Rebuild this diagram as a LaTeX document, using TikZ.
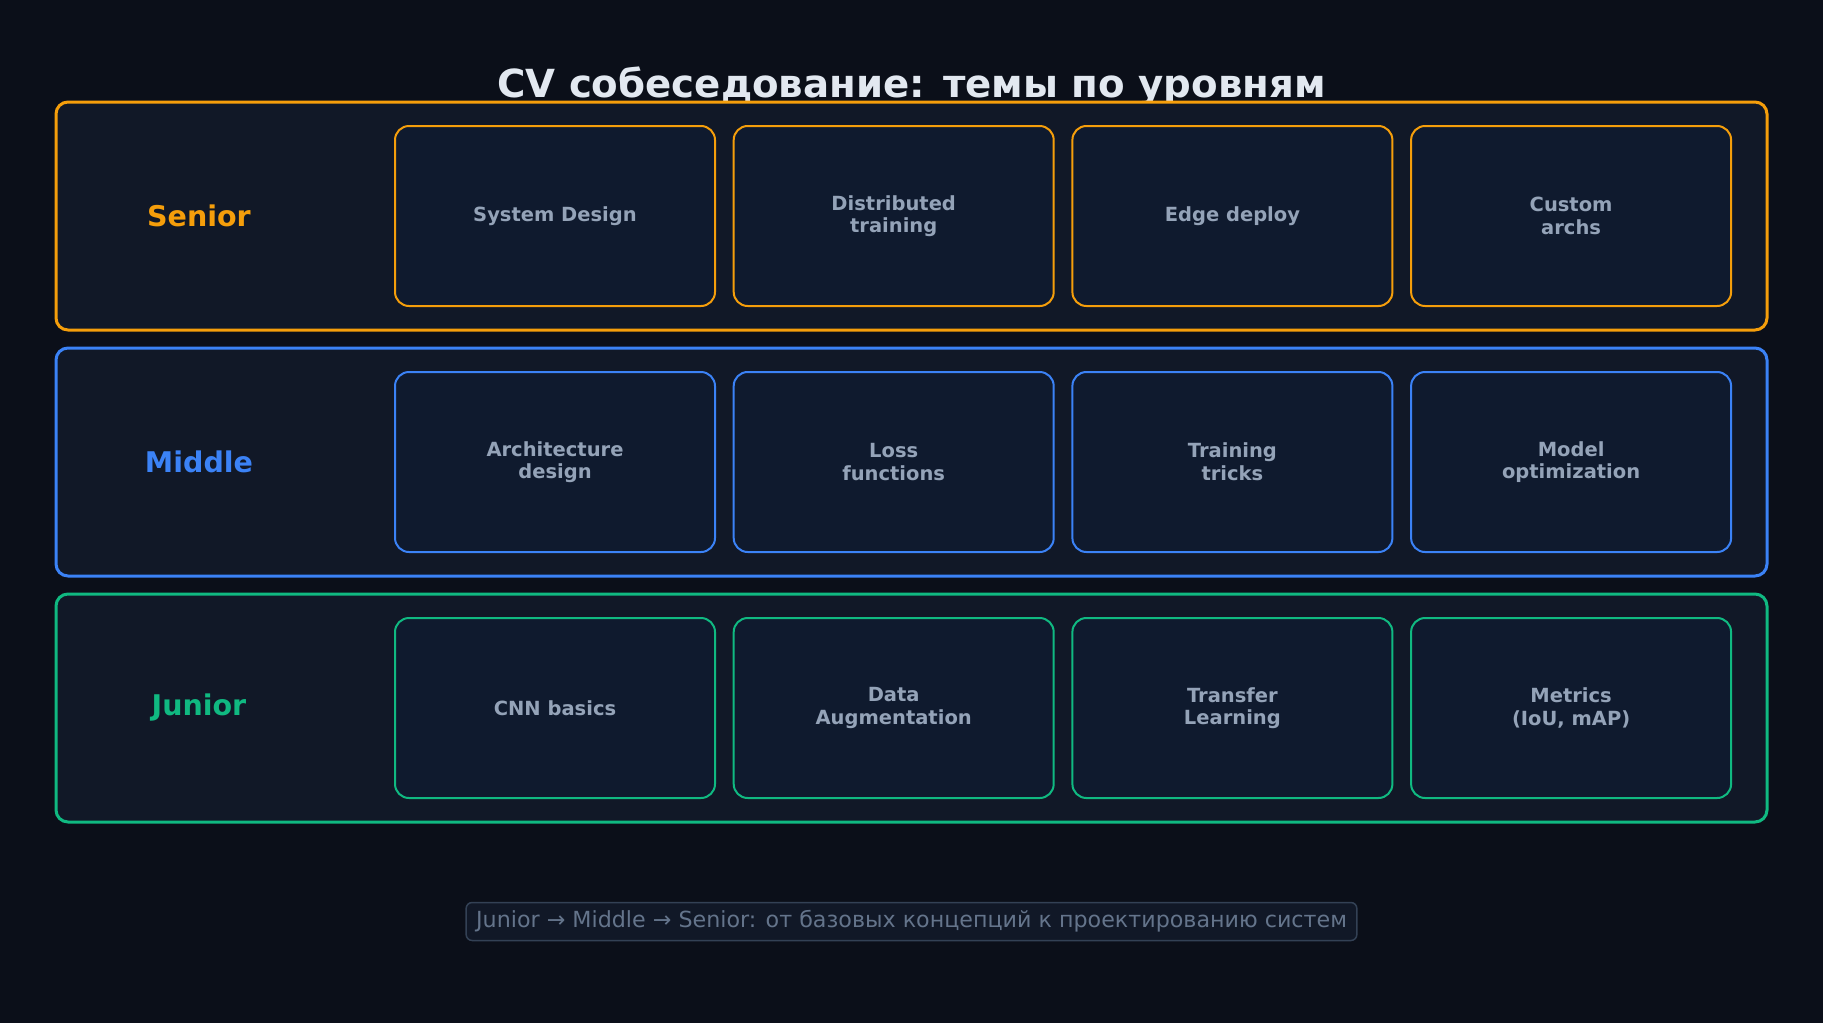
\documentclass[tikz,border=0pt]{standalone}
\usepackage{fontspec}
\setmainfont{DejaVu Sans}
\usepackage{xcolor}
\usepackage{tikz}
\definecolor{bgdark}{RGB}{11,15,25}
\definecolor{rowfill}{RGB}{17,24,39}
\definecolor{cardfill}{RGB}{15,26,46}
\definecolor{titlewhite}{RGB}{226,232,240}
\definecolor{topicgray}{RGB}{148,163,184}
\definecolor{notegray}{RGB}{100,116,139}
\definecolor{noteedge}{RGB}{51,65,85}
\definecolor{seniororange}{RGB}{245,158,11}
\definecolor{middleblue}{RGB}{59,130,246}
\definecolor{juniorgreen}{RGB}{16,185,129}

\tikzset{
  rowbox/.style={draw, fill=rowfill, line width=3pt, rounded corners=12pt,
    minimum width=1711pt, minimum height=228pt},
  card/.style={draw, fill=cardfill, line width=2pt, rounded corners=14pt,
    minimum width=320pt, minimum height=180pt, align=center, text=topicgray,
    font=\fontsize{19.5}{22.6}\selectfont\bfseries},
  level/.style={font=\fontsize{28.5}{33}\selectfont\bfseries}
}

\begin{document}
\begin{tikzpicture}[x=1pt, y=-1pt]
  \useasboundingbox (0,0) rectangle (1823,1023);
  \fill[bgdark] (0,0) rectangle (1823,1023);
  \node[titlewhite, font=\fontsize{38.7}{45}\selectfont\bfseries, anchor=base,
    inner sep=0pt] (title) at (911.5,97.5) {CV собеседование: темы по уровням};
  % Senior
  \node[rowbox, draw=seniororange] (seniorrow) at (911.5,216) {};
  \node[level, text=seniororange] (senior) at (199,216) {Senior};
  \foreach \t [count=\i] in {System Design, Distributed\\training, Edge deploy, Custom\\archs}
    \node[card, draw=seniororange] (senior\i) at ({555+338.7*(\i-1)},216) {\t};
  % Middle
  \node[rowbox, draw=middleblue] (middlerow) at (911.5,462) {};
  \node[level, text=middleblue] (middle) at (199,462) {Middle};
  \foreach \t [count=\i] in {Architecture\\design, Loss\\functions, Training\\tricks, Model\\optimization}
    \node[card, draw=middleblue] (middle\i) at ({555+338.7*(\i-1)},462) {\t};
  % Junior
  \node[rowbox, draw=juniorgreen] (juniorrow) at (911.5,708) {};
  \node[level, text=juniorgreen] (junior) at (199,708) {Junior};
  \foreach \t [count=\i] in {CNN basics, Data\\Augmentation, Transfer\\Learning, {Metrics\\(IoU, mAP)}}
    \node[card, draw=juniorgreen] (junior\i) at ({555+338.7*(\i-1)},708) {\t};
  % Note
  \node[draw=noteedge, fill=rowfill, line width=1.5pt, rounded corners=6pt,
    text=notegray, font=\fontsize{22.2}{26}\selectfont, minimum height=38pt,
    inner xsep=10pt] (note) at (911.5,921.5)
    {Junior → Middle → Senior: от базовых концепций к проектированию систем};
\end{tikzpicture}
\end{document}
